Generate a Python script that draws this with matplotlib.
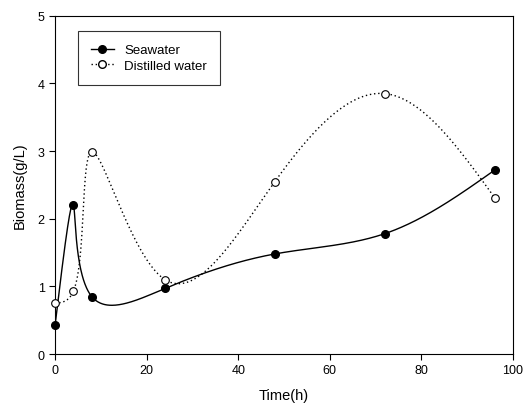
import numpy as np
import matplotlib
matplotlib.use("Agg")
import matplotlib.pyplot as plt

plt.rcParams['font.family'] = ['Liberation Sans', 'DejaVu Sans']

time_h = [0, 4, 8, 24, 48, 72, 96]
seawater = [0.43, 2.21, 0.85, 0.97, 1.48, 1.78, 2.72]
distilled = [0.75, 0.93, 2.99, 1.10, 2.55, 3.85, 2.31]


def natural_spline(t, v, ts):
    t = np.asarray(t, float)
    v = np.asarray(v, float)
    k = len(t)
    h = np.diff(t)
    A = np.zeros((k, k))
    b = np.zeros(k)
    A[0, 0] = A[-1, -1] = 1
    for i in range(1, k - 1):
        A[i, i - 1] = h[i - 1]
        A[i, i] = 2 * (h[i - 1] + h[i])
        A[i, i + 1] = h[i]
        b[i] = 3 * ((v[i + 1] - v[i]) / h[i] - (v[i] - v[i - 1]) / h[i - 1])
    c = np.linalg.solve(A, b)
    idx = np.clip(np.searchsorted(t, ts) - 1, 0, k - 2)
    d = ts - t[idx]
    hi = h[idx]
    bi = (v[idx + 1] - v[idx]) / hi - hi * (2 * c[idx] + c[idx + 1]) / 3
    di = (c[idx + 1] - c[idx]) / (3 * hi)
    return v[idx] + bi * d + c[idx] * d ** 2 + di * d ** 3


def smooth_curve(x, y, sx=4.58, sy=67.6, n=600):
    # parametric spline through the points (screen-space chord parameter)
    x = np.asarray(x, float)
    y = np.asarray(y, float)
    seg = np.hypot(np.diff(x) * sx, np.diff(y) * sy) ** 0.55
    t = np.concatenate([[0], np.cumsum(seg)])
    ts = np.linspace(0, t[-1], n)
    return natural_spline(t, x, ts), natural_spline(t, y, ts)


fig = plt.figure(figsize=(5.3, 4.1), dpi=100)
ax = fig.add_axes([0.104, 0.134, 0.864, 0.825])

xs, ys = smooth_curve(time_h, seawater)
ax.plot(xs, ys, color='black', lw=1.0)
xs, ys = smooth_curve(time_h, distilled)
ax.plot(xs, ys, color='black', lw=1.0, ls=(0, (1, 2)))

ax.plot(time_h, seawater, 'o', color='black', ms=5.5, mec='black', clip_on=False, zorder=3)
ax.plot(time_h, distilled, 'o', color='white', ms=5.5, mec='black', mew=0.8, clip_on=False, zorder=3)

h1, = ax.plot([], [], '-o', color='black', ms=5.5, lw=1.0)
h2, = ax.plot([], [], 'o', ls=(0, (1, 2)), color='black', mfc='white', mec='black', ms=5.5, lw=1.0)
leg = ax.legend([h1, h2], ['Seawater', 'Distilled water'], loc='upper left',
                bbox_to_anchor=(0.05, 0.956), borderaxespad=0, fontsize=9.5, frameon=True,
                fancybox=False, edgecolor='black', handlelength=1.7, borderpad=1.0,
                labelspacing=0.25)
leg.get_frame().set_linewidth(0.8)

ax.set_xlim(0, 100)
ax.set_ylim(0, 5)
ax.set_xticks([0, 20, 40, 60, 80, 100])
ax.set_yticks([0, 1, 2, 3, 4, 5])
ax.tick_params(direction='out', length=4, labelsize=9, width=0.8)
for s in ax.spines.values():
    s.set_linewidth(0.8)
ax.set_xlabel('Time(h)', fontsize=10.5, labelpad=8)
ax.set_ylabel('Biomass(g/L)', fontsize=10.5, labelpad=8)

fig.savefig('out.png', dpi=100)
